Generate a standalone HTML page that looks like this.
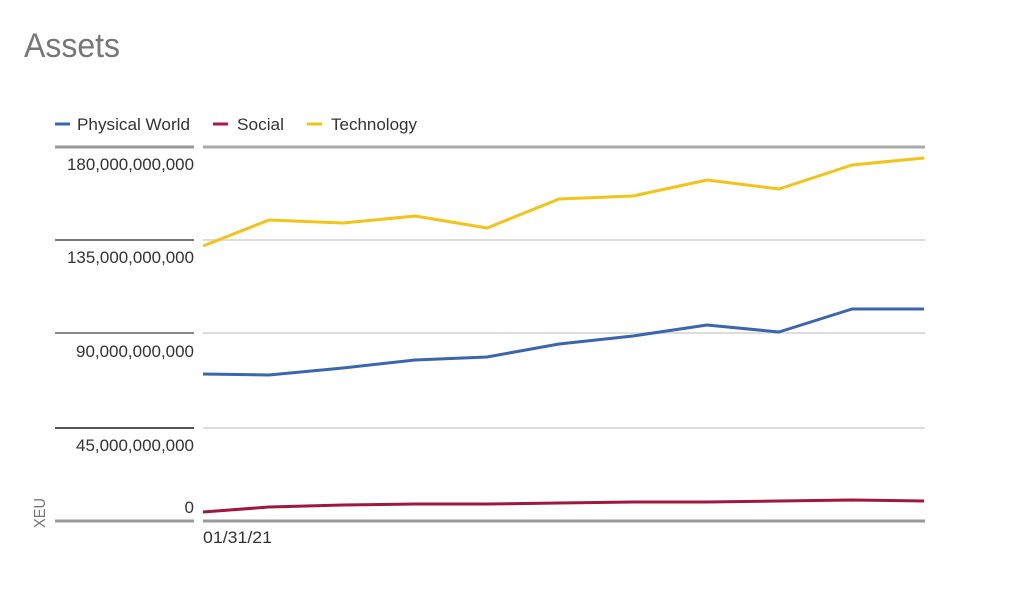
<!DOCTYPE html>
<html><head><style>
body{margin:0;background:#fff;width:1012px;height:610px;overflow:hidden;font-family:"Liberation Sans",sans-serif;}
</style></head><body>
<svg width="1012" height="610" xmlns="http://www.w3.org/2000/svg" font-family="Liberation Sans, sans-serif">
<text x="24" y="57" font-size="34" fill="#777" textLength="96" lengthAdjust="spacingAndGlyphs">Assets</text>
<g font-size="17" fill="#333">
<line x1="55" y1="124" x2="70" y2="124" stroke="#3a66b0" stroke-width="3"/><text x="77" y="130" textLength="113" lengthAdjust="spacingAndGlyphs">Physical World</text>
<line x1="213" y1="124" x2="228" y2="124" stroke="#b0174a" stroke-width="3"/><text x="237" y="130" textLength="47" lengthAdjust="spacingAndGlyphs">Social</text>
<line x1="307" y1="124" x2="322" y2="124" stroke="#f2c417" stroke-width="3"/><text x="331" y="130" textLength="86" lengthAdjust="spacingAndGlyphs">Technology</text>
</g>
<g stroke-width="2">
<line x1="55" y1="147" x2="194" y2="147" stroke="#999" stroke-width="3"/><line x1="203" y1="147" x2="925" y2="147" stroke="#aaa" stroke-width="3"/>
<line x1="55" y1="240" x2="194" y2="240" stroke="#777"/><line x1="203" y1="240" x2="925" y2="240" stroke="#ddd"/>
<line x1="55" y1="333" x2="194" y2="333" stroke="#888"/><line x1="203" y1="333" x2="925" y2="333" stroke="#ddd"/>
<line x1="55" y1="428" x2="194" y2="428" stroke="#555"/><line x1="203" y1="428" x2="925" y2="428" stroke="#ddd"/>
<line x1="55" y1="521" x2="194" y2="521" stroke="#999" stroke-width="3"/><line x1="203" y1="521" x2="925" y2="521" stroke="#999" stroke-width="3"/>
</g>
<g font-size="17" fill="#333" text-anchor="end" lengthAdjust="spacingAndGlyphs">
<text x="194" y="170" textLength="127" lengthAdjust="spacingAndGlyphs">180,000,000,000</text>
<text x="194" y="263" textLength="127" lengthAdjust="spacingAndGlyphs">135,000,000,000</text>
<text x="194" y="357" textLength="118" lengthAdjust="spacingAndGlyphs">90,000,000,000</text>
<text x="194" y="451" textLength="118" lengthAdjust="spacingAndGlyphs">45,000,000,000</text>
<text x="194" y="513">0</text>
</g>
<text x="203" y="543" font-size="17" fill="#333" textLength="69" lengthAdjust="spacingAndGlyphs">01/31/21</text>
<text transform="translate(45,528) rotate(-90)" font-size="16" fill="#777" textLength="30" lengthAdjust="spacingAndGlyphs">XEU</text>
<g fill="none" stroke-width="3" stroke-linejoin="round">
<polyline stroke="#f2c417" points="203,246 269,220 343,223 415,216 487,228 559,199 633,196 707,180 779,189 852,165 924,158"/>
<polyline stroke="#3a66b0" points="203,374 269,375 343,368 415,360 487,357 559,344 633,336 707,325 779,332 852,309 924,309"/>
<polyline stroke="#a0173f" points="203,512 269,507 343,505 415,504 487,504 559,503 633,502 707,502 779,501 852,500 924,501"/>
</g>
</svg>
</body></html>
